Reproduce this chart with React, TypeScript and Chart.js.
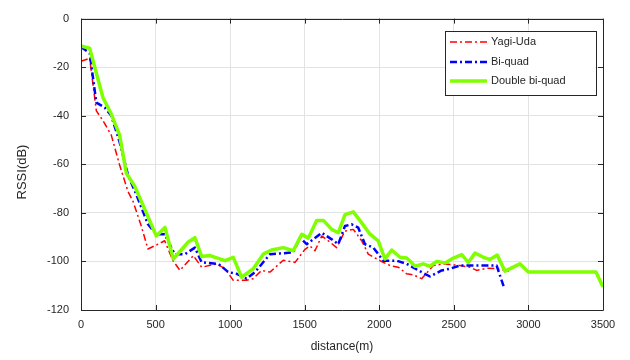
import { useEffect, useRef } from 'react';
import { Chart, registerables } from 'chart.js';

Chart.register(...registerables);

const xTicks = [0, 500, 1000, 1500, 2000, 2500, 3000, 3500];
const yTicks = [0, -20, -40, -60, -80, -100, -120];

const yagiDistance = [0, 58, 103, 147, 203, 259, 315, 349, 404, 449, 516, 561, 617, 664, 753, 809, 910, 966, 1021, 1110, 1155, 1211, 1267, 1356, 1435, 1502, 1535, 1569, 1614, 1658, 1714, 1770, 1826, 1882, 1926, 2005, 2072, 2128, 2184, 2228, 2284, 2362, 2429, 2541, 2608, 2653, 2720, 2787, 2876];
const yagiRssi = [-17.6, -16.3, -38, -42, -48, -60.3, -71.2, -75.3, -85.4, -94.9, -92.9, -91.5, -99.7, -103.7, -97.6, -102.4, -101, -103, -107.8, -107.8, -107.1, -103.7, -104.4, -99.5, -100.4, -95, -93.6, -95.6, -89.5, -91.5, -94.3, -87.5, -86.8, -91.5, -97, -99.7, -101.7, -102.4, -105.1, -105.5, -107.1, -101.7, -101, -101.7, -102.4, -103.7, -102.8, -103, -104];

const biquadDistance = [0, 58, 103, 159, 203, 259, 315, 371, 449, 505, 561, 628, 697, 764, 809, 921, 988, 1044, 1110, 1167, 1267, 1334, 1423, 1468, 1513, 1614, 1681, 1725, 1770, 1815, 1859, 1904, 1960, 2027, 2117, 2184, 2262, 2340, 2418, 2474, 2541, 2653, 2787, 2835];
const biquadRssi = [-11.7, -14.2, -34.6, -36.6, -40, -50.9, -64.4, -72.5, -84.7, -88.8, -88.8, -97, -97, -94.3, -100.4, -101, -104.4, -105.1, -107.1, -104.4, -97, -96.7, -96.3, -90.2, -92.9, -88.2, -90.9, -92.9, -85.4, -84.7, -86.1, -92.9, -94.3, -99.7, -99.7, -101, -103.7, -106.2, -103.7, -103, -101.7, -101.7, -101.7, -110.5];

const doubleDistance = [0, 58, 147, 203, 259, 304, 360, 505, 563, 619, 719, 764, 809, 865, 966, 1021, 1077, 1155, 1222, 1278, 1356, 1423, 1480, 1524, 1580, 1625, 1681, 1725, 1770, 1826, 1882, 1938, 1993, 2038, 2083, 2139, 2184, 2240, 2295, 2340, 2385, 2441, 2497, 2553, 2597, 2642, 2698, 2742, 2791, 2843, 2943, 2999, 3453, 3500];
const doubleRssi = [-11.3, -12.2, -32.5, -39.3, -48, -63.7, -69, -89.5, -86, -99, -92, -90.2, -98, -97.6, -99.7, -98.3, -106.5, -103, -97, -95.3, -94.3, -95.6, -88.8, -90.4, -83.1, -83.1, -86.8, -88.2, -80.7, -79.6, -84.1, -88.8, -91.5, -99, -95.3, -98.3, -98.6, -102, -101, -102, -100, -100.6, -98.6, -97.2, -100.4, -96.5, -98.3, -99.2, -97.4, -104, -101, -104.4, -104.4, -110.5];

const seriesNames = ['Yagi-Uda', 'Bi-quad', 'Double bi-quad'];
const seriesColors = ['#ff0000', '#0000ff', '#80ff00'];
const seriesWidths = [1.5, 2.5, 3.5];
const seriesDashes = [[7, 3, 2, 3], [7, 3, 2, 3], []];

const FONT = '"Liberation Sans", Arial, sans-serif';
const TEXT = '#262626';

const zip = (xs: number[], ys: number[]) => xs.map((x, i) => ({ x, y: ys[i] }));

const framePlugin = {
  id: 'frameAndLegend',
  afterDraw(chart: any) {
    const { ctx, chartArea } = chart;
    const { left, right, top, bottom } = chartArea;
    const xs = chart.scales.x;
    const ys = chart.scales.y;
    ctx.save();
    ctx.strokeStyle = TEXT;
    ctx.lineWidth = 1;
    ctx.setLineDash([]);
    ctx.beginPath();
    ctx.rect(Math.round(left) + 0.5, Math.round(top) + 0.5, Math.round(right - left), Math.round(bottom - top));
    ctx.stroke();
    ctx.beginPath();
    const tl = 5;
    for (const v of xTicks) {
      const px = Math.round(xs.getPixelForValue(v)) + 0.5;
      ctx.moveTo(px, bottom);
      ctx.lineTo(px, bottom - tl);
      ctx.moveTo(px, top);
      ctx.lineTo(px, top + tl);
    }
    for (const v of yTicks) {
      const py = Math.round(ys.getPixelForValue(v)) + 0.5;
      ctx.moveTo(left, py);
      ctx.lineTo(left + tl, py);
      ctx.moveTo(right, py);
      ctx.lineTo(right - tl, py);
    }
    ctx.stroke();

    // axis titles
    ctx.fillStyle = TEXT;
    ctx.textAlign = 'center';
    ctx.textBaseline = 'middle';
    ctx.font = `12px ${FONT}`;
    ctx.fillText('distance(m)', (left + right) / 2, 347);
    ctx.save();
    ctx.font = `13px ${FONT}`;
    ctx.translate(22, 172);
    ctx.rotate(-Math.PI / 2);
    ctx.fillText('RSSI(dB)', 0, 0);
    ctx.restore();

    // legend
    const bx = 445.5, by = 31.5, bw = 151, bh = 64;
    ctx.fillStyle = '#ffffff';
    ctx.fillRect(bx, by, bw, bh);
    ctx.strokeStyle = TEXT;
    ctx.lineWidth = 1;
    ctx.strokeRect(bx, by, bw, bh);
    const rows = [42, 62, 81];
    ctx.font = `11px ${FONT}`;
    ctx.textAlign = 'left';
    ctx.textBaseline = 'middle';
    seriesNames.forEach((name, i) => {
      ctx.strokeStyle = seriesColors[i];
      ctx.lineWidth = seriesWidths[i];
      ctx.setLineDash(seriesDashes[i]);
      ctx.beginPath();
      ctx.moveTo(450, rows[i]);
      ctx.lineTo(487, rows[i]);
      ctx.stroke();
      ctx.setLineDash([]);
      ctx.fillStyle = TEXT;
      ctx.fillText(name, 491, rows[i]);
    });
    ctx.restore();
  },
};

export default function App() {
  const ref = useRef<HTMLCanvasElement | null>(null);
  useEffect(() => {
    document.body.style.margin = '0';
    if (!ref.current) return;
    const data = [zip(yagiDistance, yagiRssi), zip(biquadDistance, biquadRssi), zip(doubleDistance, doubleRssi)];
    const chart = new Chart(ref.current, {
      type: 'line',
      data: {
        datasets: seriesNames.map((name, i) => ({
          label: name,
          data: data[i],
          borderColor: seriesColors[i],
          backgroundColor: seriesColors[i],
          borderWidth: seriesWidths[i],
          borderDash: seriesDashes[i],
          pointRadius: 0,
          tension: 0,
          fill: false,
          borderJoinStyle: 'round' as const,
          order: 3 - i,
        })),
      },
      options: {
        animation: false,
        responsive: false,
        maintainAspectRatio: false,
        layout: { padding: { left: 0, right: 27, top: 15, bottom: 0 } },
        plugins: { legend: { display: false }, tooltip: { enabled: false } },
        scales: {
          x: {
            type: 'linear',
            min: 0,
            max: 3500,
            afterBuildTicks: (s: any) => { s.ticks = xTicks.map((v) => ({ value: v })); },
            afterFit: (s: any) => { s.height = 50; },
            grid: { color: '#e3e3e3', drawTicks: false },
            border: { display: false },
            ticks: { color: TEXT, font: { family: FONT, size: 11 }, padding: 8, maxRotation: 0, callback: (v: any) => String(v) },
          },
          y: {
            type: 'linear',
            min: -120,
            max: 0,
            afterBuildTicks: (s: any) => { s.ticks = yTicks.map((v) => ({ value: v })); },
            afterFit: (s: any) => { s.width = 81; },
            grid: { color: '#e3e3e3', drawTicks: false },
            border: { display: false },
            ticks: { color: TEXT, font: { family: FONT, size: 11 }, padding: 12, callback: (v: any) => String(v) },
          },
        },
      },
      plugins: [framePlugin],
    });
    return () => chart.destroy();
  }, []);
  return (
    <div style={{ width: 630, height: 360 }}>
      <canvas ref={ref} width={630} height={360} style={{ display: 'block' }} />
    </div>
  );
}
